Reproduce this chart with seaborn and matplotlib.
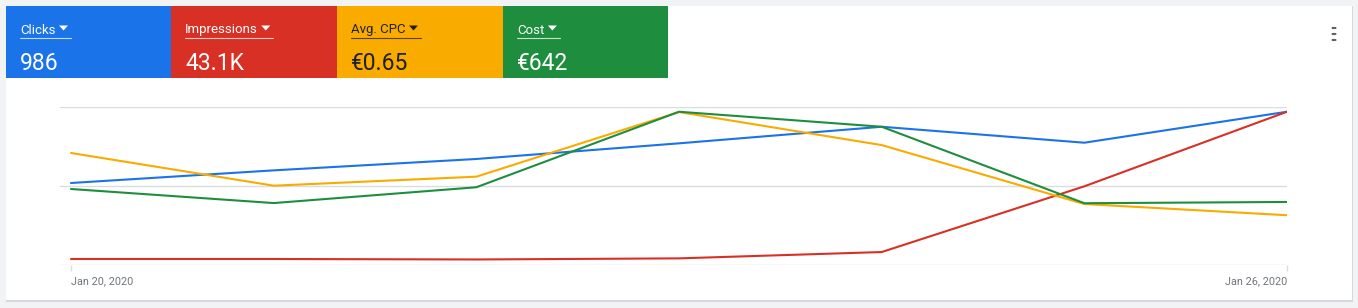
import matplotlib
matplotlib.use("Agg")
import matplotlib.pyplot as plt
import seaborn as sns
import pandas as pd
from matplotlib.patches import Rectangle, Polygon

sns.set_theme(style="white")
plt.rcParams['font.family'] = ['Roboto', 'DejaVu Sans']

# ---- data (relative index of each metric) ----
dates = ["Jan 20, 2020", "Jan 21, 2020", "Jan 22, 2020", "Jan 23, 2020",
         "Jan 24, 2020", "Jan 25, 2020", "Jan 26, 2020"]
clicks = [51.9, 59.9, 67.1, 77.0, 87.5, 77.4, 97.0]
impressions = [3.8, 3.8, 3.5, 4.2, 8.2, 49.8, 97.0]
avg_cpc = [70.9, 50.2, 55.9, 96.8, 75.9, 38.6, 31.5]
cost = [48.1, 39.2, 49.2, 97.0, 87.5, 39.1, 39.9]

metric_names = ["Clicks", "Impressions", "Avg. CPC", "Cost"]
metric_totals = ["986", "43.1K", "€0.65", "€642"]
tick_labels = ["Jan 20, 2020", "Jan 26, 2020"]

colors = ["#1a73e8", "#d93025", "#f9ab00", "#1e8e3e"]
text_colors = ["white", "white", "#202124", "white"]

rows = []
for name, vals in zip(metric_names, [clicks, impressions, avg_cpc, cost]):
    for i, v in enumerate(vals):
        rows.append({"idx": i, "date": dates[i], "metric": name, "value": v})
df = pd.DataFrame(rows)

W, H = 1358, 308
fig = plt.figure(figsize=(W / 100, H / 100), dpi=100)
fig.patch.set_facecolor("#f1f3f4")

def fx(px):
    return px / W

def fy(py):
    return 1 - py / H

# card with subtle shadow
fig.add_artist(Rectangle((fx(6), fy(301.5)), fx(1346.5), (295.5) / H,
                         transform=fig.transFigure, facecolor="#d5d7da",
                         edgecolor="none", zorder=0))
fig.add_artist(Rectangle((fx(6), fy(300)), fx(1346), (294) / H,
                         transform=fig.transFigure, facecolor="white",
                         edgecolor="none", zorder=1))

renderer = fig.canvas.get_renderer()

# metric tiles
tile_x = [6, 171, 337, 503]
tile_w = [165, 166, 166, 165]
for x0, w, col, tcol, name, tot in zip(tile_x, tile_w, colors, text_colors,
                                       metric_names, metric_totals):
    fig.add_artist(Rectangle((fx(x0), fy(78)), fx(w), 72 / H,
                             transform=fig.transFigure, facecolor=col,
                             edgecolor="none", zorder=2))
    t = fig.text(fx(x0 + 14), fy(33.5), name, color=tcol, fontsize=9.5,
                 ha="left", va="baseline", zorder=3)
    bb = t.get_window_extent(renderer=renderer)
    xe = bb.x1  # pixels from left
    tx0 = xe + 3.5
    tri = Polygon([[fx(tx0), fy(25.5)], [fx(tx0 + 9), fy(25.5)],
                   [fx(tx0 + 4.5), fy(30.5)]], closed=True,
                  transform=fig.transFigure, facecolor=tcol, edgecolor="none",
                  zorder=3)
    fig.add_artist(tri)
    fig.add_artist(plt.Line2D([fx(x0 + 14), fx(tx0 + 12)], [fy(37.5), fy(37.5)],
                              transform=fig.transFigure, color=tcol, lw=0.8,
                              alpha=0.75, zorder=3))
    fig.text(fx(x0 + 14), fy(69.5), tot, color=tcol, fontsize=16.5,
             ha="left", va="baseline", zorder=3)

# kebab menu
for yy in (28, 34, 40):
    fig.add_artist(plt.Circle((fx(1334), fy(yy)), 1.8 / W, transform=fig.transFigure,
                              color="#5f6368", zorder=3))

# chart axes: gridlines at 0/50/100 -> y px 265/186/107 ; x 60..1287
ax = fig.add_axes([fx(60), fy(265), fx(1227), 158 / H])
ax.set_facecolor("none")
ax.set_zorder(4)
sns.lineplot(data=df, x="idx", y="value", hue="metric", hue_order=metric_names,
             palette=colors, linewidth=1.5, legend=False, ax=ax)
step = (1287 - 71) / 6
ax.set_xlim(-(71 - 60) / step, 6)
ax.set_ylim(0, 100)
for v in (0, 50, 100):
    ax.axhline(v, color="#dadce0", lw=1, zorder=0)
for s in ax.spines.values():
    s.set_visible(False)
ax.set_yticks([])
ax.set_xticks([0, 6])
ax.set_xticklabels(tick_labels)
ax.tick_params(axis="x", length=4, color="#dadce0", width=1, pad=4,
               labelsize=7.8, labelcolor="#70757a", bottom=True)
labs = ax.get_xticklabels()
labs[0].set_ha("left")
labs[1].set_ha("right")
ax.set_xlabel("")
ax.set_ylabel("")

fig.savefig("out.png", dpi=100, facecolor=fig.get_facecolor())
